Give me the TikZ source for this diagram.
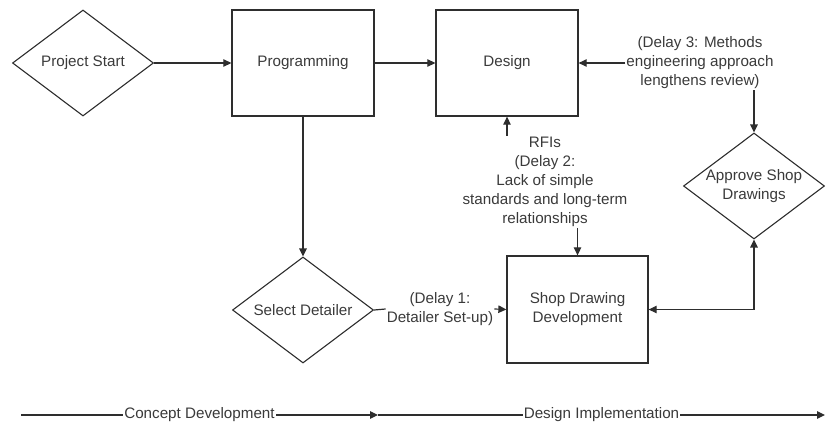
\documentclass[tikz,border=0pt]{standalone}
\usepackage{fontspec}
\setmainfont{Liberation Sans}
\usetikzlibrary{shapes.geometric,arrows.meta}
\definecolor{ink}{HTML}{2E2E2E}
\definecolor{txt}{HTML}{3A3A3A}
\begin{document}
\begin{tikzpicture}[x=1pt,y=-1pt,
  font=\fontsize{15.2}{19}\selectfont,
  every node/.style={text=txt},
  procbox/.style={draw=ink,line width=1.3pt,rectangle,minimum width=142pt,minimum height=106pt,inner sep=0pt},
  decision/.style={draw=ink,line width=1.1pt,diamond,aspect=1.33,minimum width=141pt,minimum height=106pt,inner sep=0pt,align=center},
  note/.style={align=center,inner sep=1pt},
  conn/.style={draw=ink,line width=1.2pt,-{Triangle[length=8pt,width=7.5pt]}},
  bothways/.style={draw=ink,line width=1.2pt,{Triangle[length=8pt,width=7.5pt]}-{Triangle[length=8pt,width=7.5pt]}},
  plain/.style={draw=ink,line width=1.2pt},
  phase/.style={fill=white,inner sep=1pt}]
\useasboundingbox (0,0) rectangle (826,423);

% process steps
\node[decision] (ps) at (83,63) {Project Start};
\node[procbox] (prog) at (303,63) {Programming};
\node[procbox] (des) at (507,63) {Design};
\node[decision] (ap) at (754,186) {Approve Shop\\Drawings};
\node[decision] (sd) at (303,310) {Select Detailer};
\node[procbox,minimum width=141pt,minimum height=107pt,align=center] (sdd) at (577.5,309.5) {Shop Drawing\\Development};

% delay notes
\node[note] (d3) at (700,63) {(Delay 3: Methods\\engineering approach\\lengthens review)};
\node[note] (d2) at (545,182) {RFIs\\(Delay 2:\\Lack of simple\\standards and long-term\\relationships};
\node[note] (d1) at (440,309) {(Delay 1:\\Detailer Set-up)};

% flow
\draw[conn] (ps.east) -- (prog.west);
\draw[conn] (prog.east) -- (des.west);
\draw[conn] (prog.south) -- (sd.north);
\draw[conn] (d3.west) -- (des.east);
\draw[conn] (d3.south -| ap.north) -- (ap.north);
\draw[conn] (d2.north -| des.south) -- (des.south);
\draw[conn] (d2.south -| sdd.north) -- (sdd.north);
\draw[plain] (sd.east) -- (d1.west);
\draw[conn] (d1.east) -- (sdd.west);
\draw[bothways] (sdd.east) -| (ap.south);

% project phases
\coordinate (t0) at (21,415);
\coordinate (t1) at (378,415);
\coordinate (t2) at (825,415);
\draw[conn] (t0) -- node[phase] (cd) {Concept Development} (t1);
\draw[conn] (t1) -- node[phase] (di) {Design Implementation} (t2);
\end{tikzpicture}
\end{document}
